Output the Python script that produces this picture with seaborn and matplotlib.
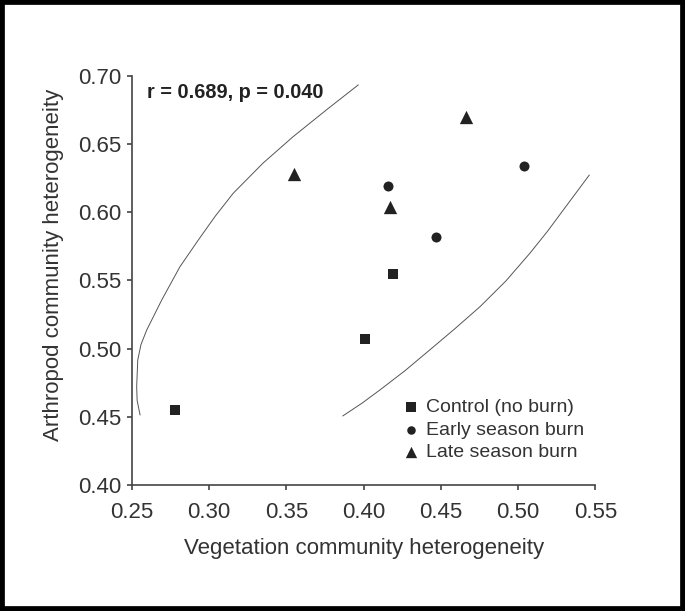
import matplotlib
matplotlib.use("Agg")
import matplotlib.pyplot as plt
import seaborn as sns
import pandas as pd
from matplotlib.patches import Rectangle

# points
groups = ["Control (no burn)", "Early season burn", "Late season burn"]
control_x = [0.278, 0.401, 0.419]
control_y = [0.455, 0.507, 0.555]
early_x = [0.416, 0.447, 0.504]
early_y = [0.619, 0.582, 0.634]
late_x = [0.355, 0.417, 0.466]
late_y = [0.628, 0.604, 0.670]

# the two arcs of the confidence ellipse
left_arc_x = [0.2554, 0.2535, 0.2532, 0.2539, 0.2560, 0.2597, 0.2694, 0.2812, 0.2931,
              0.3040, 0.3157, 0.3350, 0.3545, 0.3760, 0.3966]
left_arc_y = [0.4513, 0.4620, 0.4721, 0.4916, 0.5030, 0.5136, 0.5356, 0.5600, 0.5796,
              0.5970, 0.6139, 0.6360, 0.6554, 0.6750, 0.6933]
right_arc_x = [0.3865, 0.3990, 0.4106, 0.4270, 0.4429, 0.4590, 0.4753, 0.4920, 0.5076,
               0.5190, 0.5292, 0.5380, 0.5460]
right_arc_y = [0.4506, 0.4600, 0.4697, 0.4840, 0.4991, 0.5145, 0.5307, 0.5495, 0.5699,
               0.5860, 0.6016, 0.6150, 0.6272]

x_ticks = [0.25, 0.30, 0.35, 0.40, 0.45, 0.50, 0.55]
y_ticks = [0.40, 0.45, 0.50, 0.55, 0.60, 0.65, 0.70]

df = pd.DataFrame({
    "veg": control_x + early_x + late_x,
    "arth": control_y + early_y + late_y,
    "group": [groups[0]] * 3 + [groups[1]] * 3 + [groups[2]] * 3,
})

sns.set_style("ticks")
plt.rcParams["font.family"] = ["Liberation Sans", "DejaVu Sans"]

fig = plt.figure(figsize=(6.85, 6.11), dpi=100)
ax = fig.add_axes([0.1923, 0.2062, 0.6770, 0.6699])

ink = "#222222"
markers = {groups[0]: "s", groups[1]: "o", groups[2]: "^"}
sizes = {groups[0]: 62, groups[1]: 52, groups[2]: 92}
for g in groups:
    sub = df[df["group"] == g]
    sns.scatterplot(data=sub, x="veg", y="arth", marker=markers[g], s=sizes[g],
                    color=ink, edgecolor=ink, linewidth=0, label=g, ax=ax)

ax.plot(left_arc_x, left_arc_y, color="#555555", lw=0.7)
ax.plot(right_arc_x, right_arc_y, color="#555555", lw=0.7)

ax.set_xlim(0.25, 0.55)
ax.set_ylim(0.40, 0.70)
ax.set_xticks(x_ticks)
ax.set_yticks(y_ticks)
ax.set_xticklabels([f"{v:.2f}" for v in x_ticks])
ax.set_yticklabels([f"{v:.2f}" for v in y_ticks])
sns.despine(ax=ax)
for s in ["left", "bottom"]:
    ax.spines[s].set_color("#444444")
    ax.spines[s].set_linewidth(1.2)
ax.tick_params(axis="both", colors="#444444", length=3.8, width=1.2,
               labelsize=16, labelcolor="#333333")
ax.tick_params(axis="x", pad=8.5)
ax.tick_params(axis="y", pad=3.5)

ax.set_xlabel("Vegetation community heterogeneity", fontsize=16, color="#333333",
              labelpad=11)
ax.set_ylabel("Arthropod community heterogeneity", fontsize=16, color="#333333")
ax.yaxis.set_label_coords(-0.146, 0.5375)

ax.text(0.032, 0.960, "r = 0.689, p = 0.040", transform=ax.transAxes,
        fontsize=14.3, fontweight="bold", color=ink, va="center", ha="left")

ax.legend(loc="center left", bbox_to_anchor=(0.585, 0.134), frameon=False,
          fontsize=14, handlelength=0.8, handletextpad=0.4, labelspacing=0.25,
          borderpad=0, borderaxespad=0, markerscale=0.85, labelcolor="#333333")

fig.patches.append(Rectangle((0, 0), 1, 1, transform=fig.transFigure, fill=False,
                             edgecolor="black", lw=7))

fig.savefig("out.png", dpi=100)
